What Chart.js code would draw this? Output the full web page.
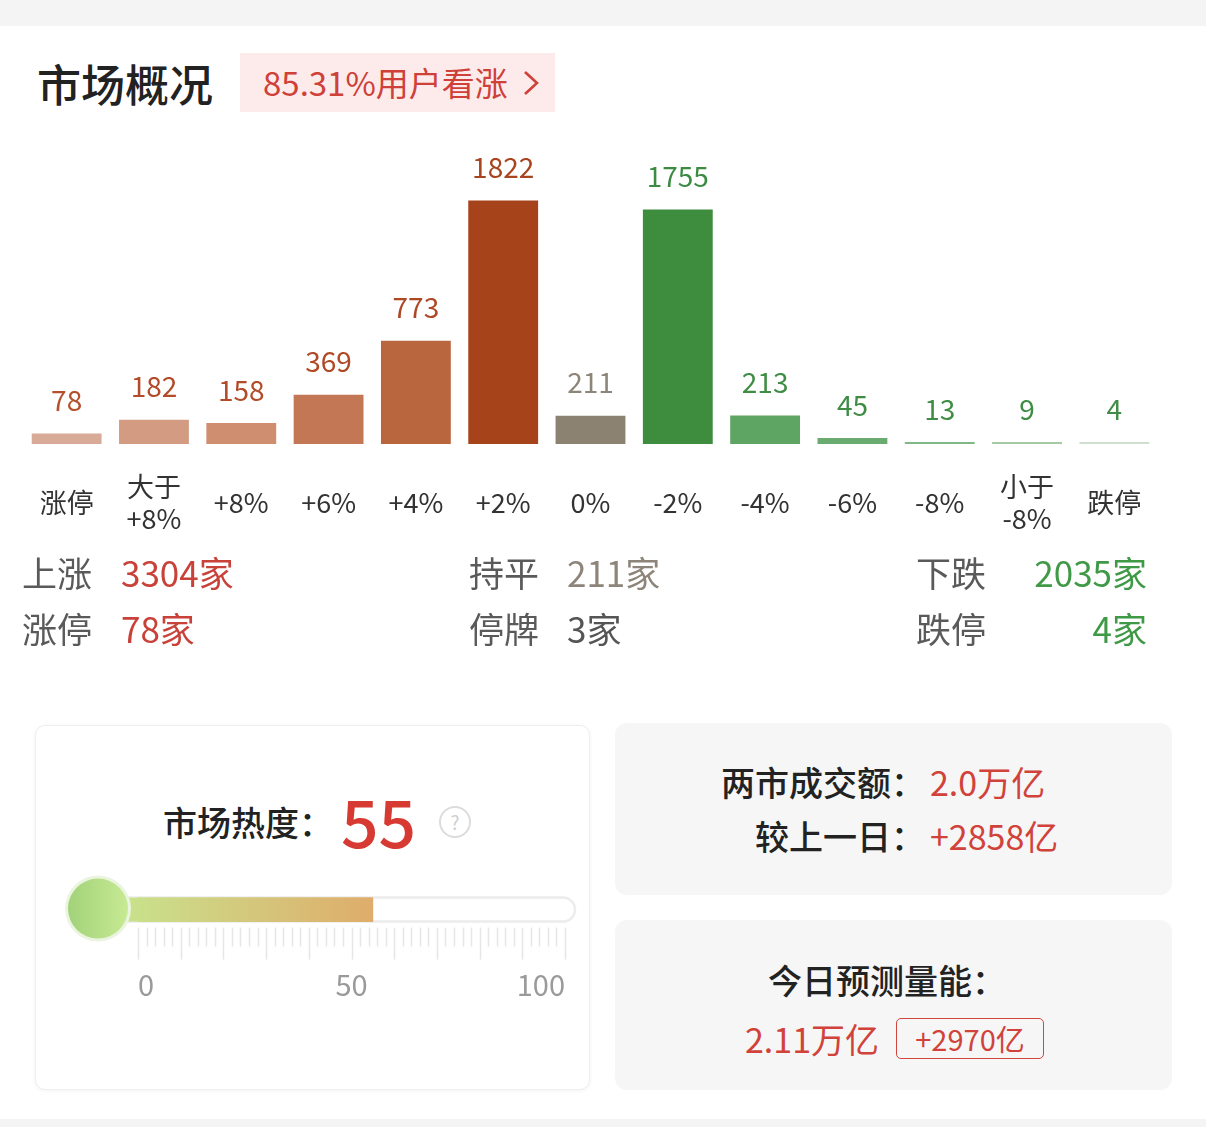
<!DOCTYPE html>
<html>
<head>
<meta charset="utf-8">
<title>市场概况</title>
<script src="https://cdn.jsdelivr.net/npm/chart.js@4.4.1/dist/chart.umd.min.js"></script>
<style>
    html, body { margin: 0; padding: 0; }
    body {
        width: 1206px; height: 1127px; position: relative; overflow: hidden;
        background: #fff;
        font-family: "Noto Sans CJK SC", "Noto Sans", sans-serif;
    }
    .abs { position: absolute; white-space: nowrap; }
    .strip { position: absolute; left: 0; width: 1206px; background: #f4f4f4; }
    .title { left: 37px; top: 54px; font-size: 44px; line-height: 58px; font-weight: 500; color: #222; }
    .badge {
        left: 240px; top: 53px; width: 315px; height: 59px; background: #fcebea;
        color: #cf4038; font-size: 33px; line-height: 59px;
    }
    .badge span { position: absolute; left: 23px; top: 0; }
    .badge svg { position: absolute; left: 281px; top: 17px; }
    .stat { font-size: 35px; line-height: 48px; }
    .lbl { color: #5a5a5a; }
    .red { color: #c8423a; }
    .flat { color: #8d857a; }
    .green { color: #3f9946; }
    .dark { color: #555; }
    #bars-wrap { position: absolute; left: 0; top: 130px; width: 1206px; height: 480px; }
    .card-heat {
        position: absolute; left: 35px; top: 725px; width: 553px; height: 363px;
        border: 1px solid #eeeeee; border-radius: 10px; box-shadow: 0 1px 4px rgba(0,0,0,0.05);
        background: #fff;
    }
    .card-grey { position: absolute; left: 615px; width: 557px; background: #f6f6f6; border-radius: 12px; }
    .heat-label { left: 163px; top: 797px; font-size: 34px; line-height: 50px; font-weight: 500; color: #222; }
    .heat-value { left: 341px; top: 779px; font-size: 66px; line-height: 80px; font-weight: 500; color: #d63a32; }
    .help {
        left: 439px; top: 806px; width: 28px; height: 28px; border: 2px solid #dcdcdc; border-radius: 50%;
        color: #cfcfcf; font-size: 19px; line-height: 28px; text-align: center;
    }
    #heat-wrap { position: absolute; left: 60px; top: 870px; width: 540px; height: 150px; }
    .info { font-size: 34px; line-height: 48px; color: #222; font-weight: 500; }
    .info .v { color: #d0423a; font-weight: 400; }
    .tag {
        left: 896px; top: 1018px; width: 146px; height: 39px; border: 1.5px solid #d0453d; border-radius: 5px;
        color: #d0423a; font-size: 29px; line-height: 39px; text-align: center;
    }
</style>
</head>
<body>
<div class="strip" style="top:0;height:26px;"></div>
<div class="strip" style="top:1119px;height:8px;"></div>

<div class="abs title">市场概况</div>
<div class="abs badge"><span>85.31%用户看涨</span>
    <svg width="22" height="26" viewBox="0 0 22 26"><polyline points="4,2 16,13 4,24" fill="none" stroke="#cf4038" stroke-width="2.6"/></svg>
</div>

<div id="bars-wrap"><canvas id="bars-chart"></canvas></div>

<div id="stats"></div>

<div class="card-heat"></div>
<div class="abs heat-label">市场热度：</div>
<div class="abs heat-value" id="heat-value"></div>
<div class="abs help">?</div>
<div id="heat-wrap"><canvas id="heat-chart"></canvas></div>

<div class="card-grey" style="top:723px;height:172px;"></div>
<div class="abs info" style="right:281px;top:758px;">两市成交额：</div>
<div class="abs info" style="left:930px;top:758px;"><span class="v">2.0万亿</span></div>
<div class="abs info" style="right:281px;top:812px;">较上一日：</div>
<div class="abs info" style="left:930px;top:812px;"><span class="v">+2858亿</span></div>

<div class="card-grey" style="top:920px;height:170px;"></div>
<div class="abs info" style="left:768px;top:956px;">今日预测量能：</div>
<div class="abs info" style="left:745px;top:1015px;"><span class="v">2.11万亿</span></div>
<div class="abs tag">+2970亿</div>

<script>
// Price change buckets and number of stocks in each
const categories = ['涨停', ['大于', '+8%'], '+8%', '+6%', '+4%', '+2%', '0%', '-2%', '-4%', '-6%', '-8%', ['小于', '-8%'], '跌停'];
const counts = [78, 182, 158, 369, 773, 1822, 211, 1755, 213, 45, 13, 9, 4];
const barColors = ['#d8ab98', '#d39c82', '#cf8e70', '#c47755', '#b9663f', '#a6431b', '#8b8272',
                   '#3e8c3e', '#5ea463', '#6aab6f', '#80b985', '#a3c9a5', '#cfdfcf'];
const labelColors = ['#b4512d', '#b24c28', '#b24c28', '#b04a26', '#ae4824', '#a8441e', '#8c8579',
                     '#3d8b43', '#3f8d45', '#3f8d45', '#3f8d45', '#3f8d45', '#3f8d45'];

// Summary rows
const summaryLabels = ['上涨', '持平', '下跌', '涨停', '停牌', '跌停'];
const summaryValues = ['3304家', '211家', '2035家', '78家', '3家', '4家'];
const summaryClasses = ['red', 'flat', 'green', 'red', 'dark', 'green'];

// Market heat gauge
const heatValue = 55;
const heatTicks = [0, 50, 100];

// Write the two summary rows under the bar chart
function buildSummary() {
    const wrap = document.getElementById('stats');
    const labelX = [22, 469, 916];
    const valueX = [121, 567, null];
    const rowY = [548, 604];
    let html = '';
    summaryLabels.forEach(function(label, i) {
        const col = i % 3;
        const row = Math.floor(i / 3);
        html += '<div class="abs stat lbl" style="left:' + labelX[col] + 'px;top:' + rowY[row] + 'px;">' + label + '</div>';
        const pos = valueX[col] === null ? 'right:59px;' : 'left:' + valueX[col] + 'px;';
        html += '<div class="abs stat ' + summaryClasses[i] + '" style="' + pos + 'top:' + rowY[row] + 'px;">' + summaryValues[i] + '</div>';
    });
    wrap.innerHTML = html;
}

// Count labels above each bar
const valueLabelPlugin = {
    id: 'valueLabels',
    afterDatasetsDraw(chart) {
        const ctx = chart.ctx;
        const meta = chart.getDatasetMeta(0);
        ctx.save();
        ctx.font = '28px "Noto Sans CJK SC", "Noto Sans", sans-serif';
        ctx.textAlign = 'center';
        ctx.textBaseline = 'middle';
        meta.data.forEach(function(bar, i) {
            ctx.fillStyle = labelColors[i];
            ctx.fillText(String(counts[i]), bar.x, bar.y - 33);
        });
        ctx.restore();
    }
};

function initializeBarChart() {
    const ctx = document.getElementById('bars-chart').getContext('2d');
    new Chart(ctx, {
        type: 'bar',
        data: {
            labels: categories,
            datasets: [{
                data: counts,
                backgroundColor: barColors,
                borderWidth: 0,
                barPercentage: 0.8,
                categoryPercentage: 1.0,
                minBarLength: 2
            }]
        },
        options: {
            responsive: true,
            maintainAspectRatio: false,
            animation: false,
            events: [],
            layout: { padding: { left: 23, right: 48, top: 20, bottom: 16 } },
            plugins: {
                legend: { display: false },
                tooltip: { enabled: false }
            },
            scales: {
                x: {
                    grid: { display: false, drawTicks: false },
                    border: { display: false },
                    afterFit: function(scale) {
                        // labels fit inside the outer bars, no extra side padding
                        scale.paddingLeft = 0;
                        scale.paddingRight = 0;
                    },
                    ticks: {
                        color: '#333',
                        padding: 43,
                        crossAlign: 'center',
                        maxRotation: 0,
                        autoSkip: false,
                        font: { family: '"Noto Sans CJK SC", "Noto Sans", sans-serif', size: 27, lineHeight: 32 / 27 }
                    }
                },
                y: {
                    display: false,
                    min: 0,
                    max: 2200
                }
            }
        },
        plugins: [valueLabelPlugin]
    });
}

function heatGradient(chart) {
    const xs = chart.scales.x;
    const g = chart.ctx.createLinearGradient(xs.getPixelForValue(0) - 40, 0, xs.getPixelForValue(heatValue), 0);
    g.addColorStop(0, '#c6e890');
    g.addColorStop(1, '#dfad6b');
    return g;
}

// Thermometer: tube, bulb and tick marks drawn around the single bar
const thermometerPlugin = {
    id: 'thermometer',
    beforeDatasetsDraw(chart) {
        const ctx = chart.ctx;
        const xs = chart.scales.x;
        const bar = chart.getDatasetMeta(0).data[0];
        const h = 24;
        const top = bar.y - h / 2;
        const bottom = bar.y + h / 2;
        const bulbX = xs.getPixelForValue(0) - 40;
        ctx.save();
        // tube
        const tubeRight = xs.getPixelForValue(100) + 10;
        ctx.beginPath();
        ctx.roundRect(bulbX, top, tubeRight - bulbX, h, h / 2);
        ctx.fillStyle = '#fff';
        ctx.fill();
        ctx.lineWidth = 2.5;
        ctx.strokeStyle = '#ececec';
        ctx.stroke();
        // neck between bulb and zero
        ctx.fillStyle = heatGradient(chart);
        ctx.fillRect(bulbX, top, xs.getPixelForValue(0) - bulbX, h);
        // tick marks
        ctx.strokeStyle = '#e6e6e6';
        ctx.lineWidth = 1.5;
        for (let v = 0; v <= 100; v += 2) {
            const x = Math.round(xs.getPixelForValue(v)) + 0.5;
            const len = v % 10 === 0 ? 32 : 19;
            ctx.beginPath();
            ctx.moveTo(x, bottom + 6);
            ctx.lineTo(x, bottom + 6 + len);
            ctx.stroke();
        }
        ctx.restore();
    },
    afterDatasetsDraw(chart) {
        const ctx = chart.ctx;
        const xs = chart.scales.x;
        const bar = chart.getDatasetMeta(0).data[0];
        const cy = bar.y - 1;
        const bx = xs.getPixelForValue(0) - 40;
        ctx.save();
        ctx.beginPath();
        ctx.arc(bx, cy, 33, 0, Math.PI * 2);
        ctx.fillStyle = '#eaf4df';
        ctx.fill();
        const g = ctx.createLinearGradient(bx - 30, 0, bx + 30, 0);
        g.addColorStop(0, '#a2d27a');
        g.addColorStop(1, '#c7ea93');
        ctx.beginPath();
        ctx.arc(bx, cy, 30, 0, Math.PI * 2);
        ctx.fillStyle = g;
        ctx.fill();
        ctx.restore();
    }
};

function initializeHeatChart() {
    const ctx = document.getElementById('heat-chart').getContext('2d');
    new Chart(ctx, {
        type: 'bar',
        data: {
            labels: ['热度'],
            datasets: [{
                data: [heatValue],
                backgroundColor: function(context) {
                    return context.chart.chartArea ? heatGradient(context.chart) : '#dfad6b';
                },
                borderWidth: 0,
                barThickness: 24
            }]
        },
        options: {
            indexAxis: 'y',
            responsive: true,
            maintainAspectRatio: false,
            animation: false,
            events: [],
            layout: { padding: { left: 78, right: 35, top: 0, bottom: 0 } },
            plugins: {
                legend: { display: false },
                tooltip: { enabled: false }
            },
            scales: {
                y: { display: false },
                x: {
                    min: 0,
                    max: 100,
                    grid: { display: false, drawTicks: false },
                    border: { display: false },
                    afterBuildTicks: function(scale) {
                        scale.ticks = heatTicks.map(function(v) { return { value: v }; });
                    },
                    ticks: {
                        align: 'inner',
                        color: '#9a9a9a',
                        padding: 18,
                        maxRotation: 0,
                        font: { family: '"Noto Sans CJK SC", "Noto Sans", sans-serif', size: 29, lineHeight: 1.2 }
                    }
                }
            }
        },
        plugins: [thermometerPlugin]
    });
}

// Build the page
buildSummary();
document.getElementById('heat-value').textContent = heatValue;
initializeBarChart();
initializeHeatChart();
</script>
</body>
</html>
